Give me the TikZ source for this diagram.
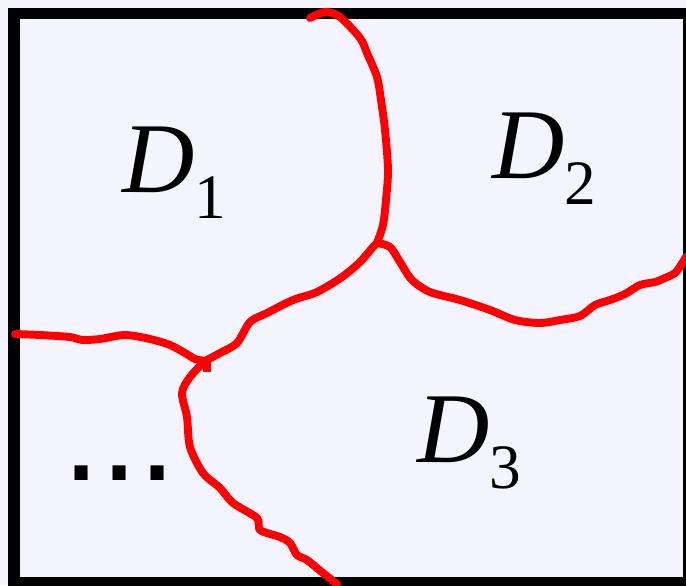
\documentclass[tikz,border=0pt]{standalone}
\usepackage{fontspec}
\setmainfont{Liberation Serif}
\newfontfamily\dotfont{Liberation Sans}
\usetikzlibrary{positioning}

\definecolor{paper}{RGB}{244,244,254}
\definecolor{cutred}{RGB}{255,0,0}

\newcommand{\dlab}[1]{{\fontsize{57}{60}\selectfont\itshape D}{\fontsize{36}{40}\selectfont\raisebox{-15pt}{#1}}}

\begin{document}
\begin{tikzpicture}[
    x=0.02cm, y=-0.02cm,
    frame/.style={draw=black, line width=6.8pt, fill=paper},
    cut/.style={draw=cutred, line width=4.5pt, line cap=round, line join=round},
    region/.style={inner sep=0pt, anchor=base west}
]

\fill[paper] (0,0) rectangle (686,585);
\useasboundingbox (0,0) rectangle (686,585);
\clip (0,0) rectangle (686,585);

\draw[frame] (14,13.5) rectangle (689,583);

% junctions
\coordinate (ja) at (377,243);
\coordinate (jb) at (205,361);

% top curve
\draw[cut] plot[smooth, tension=0.5] coordinates {(310,18) (325,12) (340,17) (360,38) (367,53) (377,77) (381,100) (385,130) (388,170) (386,200) (383,225) (ja)};
% right curve
\draw[cut] plot[smooth, tension=0.5] coordinates {(ja) (390,247) (400,262) (412,280) (430,292) (460,300) (490,310) (515,320) (540,323) (560,320) (580,316) (595,305) (610,300) (625,294) (640,285) (655,282) (665,278) (675,273) (681,265) (686,257)};
% middle curve
\draw[cut] plot[smooth, tension=0.5] coordinates {(ja) (373,247) (360,262) (342,277) (317,292) (293,300) (267,313) (250,322) (237,343) (220,353) (jb)};
% left curve
\draw[cut] plot[smooth, tension=0.5] coordinates {(15,334) (40,335) (70,337) (82,340) (100,339) (125,335) (150,339) (170,345) (185,353) (195,359) (jb)};
\draw[cut, line cap=butt] (207,360) -- (207,372);
% bottom curve
\draw[cut] plot[smooth, tension=0.5] coordinates {(jb) (190,377) (182,393) (187,417) (190,447) (203,473) (220,488) (233,503) (257,518) (260,530) (280,537) (290,543) (297,555) (307,560) (323,573) (337,584)};

% labels
\node[region] (d1) at (122,192) {\dlab{1}};
\node[region] (d2) at (492,178) {\dlab{2}};
\node[region] (d3) at (417,462) {\dlab{3}};
\node[region] (more) at (62,480) {\dotfont\fontsize{78}{80}\selectfont ...};

\end{tikzpicture}
\end{document}
